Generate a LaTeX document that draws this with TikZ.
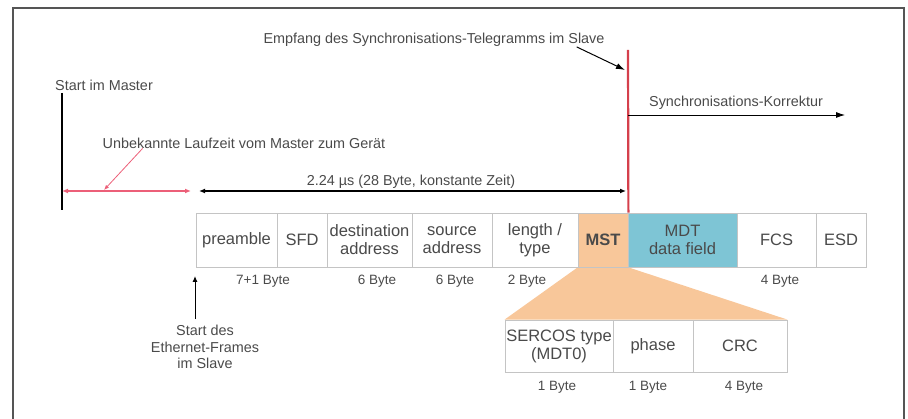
\documentclass[tikz,border=0pt]{standalone}
\usepackage{fontspec}
\setmainfont{Liberation Sans}
\usepackage{tikz}
\usetikzlibrary{arrows.meta}
\usetikzlibrary{backgrounds}

\definecolor{txt}{HTML}{4A4A4A}
\definecolor{rim}{HTML}{C4C4C4}
\definecolor{mstfill}{HTML}{F8C79A}
\definecolor{mdtfill}{HTML}{7EC5D5}
\definecolor{redline}{HTML}{D5404C}
\definecolor{pinkline}{HTML}{EC5F78}
\definecolor{framegray}{HTML}{555555}

\tikzset{
  field/.style={draw=rim, fill=white, line width=0.8pt, inner sep=0pt, align=center,
    text=txt, minimum height=54pt, font=\fontsize{16.5}{18}\selectfont},
  subfield/.style={field, minimum height=52pt},
  lbl/.style={text=txt, inner sep=0pt, align=center, font=\fontsize{14.4}{16.5}\selectfont},
  bytes/.style={text=txt, inner sep=0pt, font=\fontsize{13.5}{15}\selectfont},
}

\begin{document}
\begin{tikzpicture}[x=1pt,y=-1pt,>={Latex[length=9pt,width=6pt]}]
    \useasboundingbox (0,0) rectangle (908,419);
    \draw [framegray, line width=2pt] (13,419) -- (13,8) -- (904,8) -- (904,419);

    \node [field, minimum width=81pt] (pre) at (236.5,240) {preamble};
    \node [field, minimum width=50pt] (sfd) at (302,240) {SFD};
    \node [field, minimum width=85pt] (dst) at (369.5,240) {destination\\address};
    \node [field, minimum width=80pt] (src) at (452,240) {source\\address};
    \node [field, minimum width=86pt] (len) at (535,240) {length /\\type};
    \node [field, minimum width=50pt, fill=mstfill, font=\fontsize{16.5}{18}\selectfont\bfseries] (mst) at (603,240) {MST};
    \node [field, minimum width=109pt, fill=mdtfill] (mdt) at (682.5,240) {MDT\\data field};
    \node [field, minimum width=79pt] (fcs) at (776.5,240) {FCS};
    \node [field, minimum width=50pt] (esd) at (841,240) {ESD};

    \node [bytes] (b1) at (263,281) {7+1 Byte};
    \node [bytes] (b2) at (377,281) {6 Byte};
    \node [bytes] (b3) at (455,281) {6 Byte};
    \node [bytes] (b4) at (527,281) {2 Byte};
    \node [bytes] (b5) at (780,281) {4 Byte};

    \node [subfield, minimum width=108pt] (typ) at (559,346) {SERCOS type\\(MDT0)};
    \node [subfield, minimum width=80pt] (pha) at (653,346) {phase};
    \node [subfield, minimum width=94pt] (crc) at (740,346) {CRC};

    \node [bytes] (s1) at (557,387) {1 Byte};
    \node [bytes] (s2) at (648,387) {1 Byte};
    \node [bytes] (s3) at (744,387) {4 Byte};

    \begin{pgfonlayer}{background}
      \fill [mstfill] (mst.south west) -- (mst.south east) -- (crc.north east) -- (typ.north west) -- cycle;
    \end{pgfonlayer}

    \node [lbl] (empf) at (434,40) {Empfang des Synchronisations-Telegramms im Slave};
    \node [lbl] (korr) at (736,103) {Synchronisations-Korrektur};
    \node [lbl] (start) at (104,85) {Start im Master};
    \node [lbl] (lauf) at (244,143) {Unbekannte Laufzeit vom Master zum Gerät};
    \node [lbl] (dauer) at (411,182) {2.24 µs (28 Byte, konstante Zeit)};
    \node [lbl] (ethst) at (205,347) {Start des\\Ethernet-Frames\\im Slave};

    \coordinate (rtop) at (628,50);
    \coordinate (rhit) at (625,70);
    \coordinate (rkorr) at (628,115);
    \coordinate (kend) at (845,115);
    \coordinate (mtop) at (62,93);
    \coordinate (mbot) at (62,210);
    \coordinate (mlauf) at (62,191);
    \coordinate (elauf) at (191,191);
    \coordinate (lmark) at (104,190);
    \coordinate (dstart) at (199,191);
    \coordinate (dend) at (626,191);
    \coordinate (efrm) at (195,276);

    \draw [redline, line width=2.2pt] (rtop) -- (mst.north east);
    \draw [->, line width=1pt] ([xshift=-28pt]empf.south east) -- (rhit);
    \draw [->, line width=0.8pt] (rkorr) -- (kend);
    \draw [line width=2.2pt] (mtop) -- (mbot);
    \draw [<->, pinkline, line width=2.5pt, >={Latex[length=6pt,width=5pt]}] (mlauf) -- (elauf);
    \draw [->, pinkline, line width=0.8pt, >={Latex[length=5pt,width=4pt]}] ([xshift=40pt]lauf.south west) -- (lmark);
    \draw [<->, line width=1.2pt, >={Latex[length=6pt,width=5pt]}] (dstart) -- (dend);
    \draw [->, line width=1pt, >={Latex[length=6pt,width=5pt]}] (ethst.north -| efrm) ++(0,-6) -- (efrm);
\end{tikzpicture}
\end{document}
